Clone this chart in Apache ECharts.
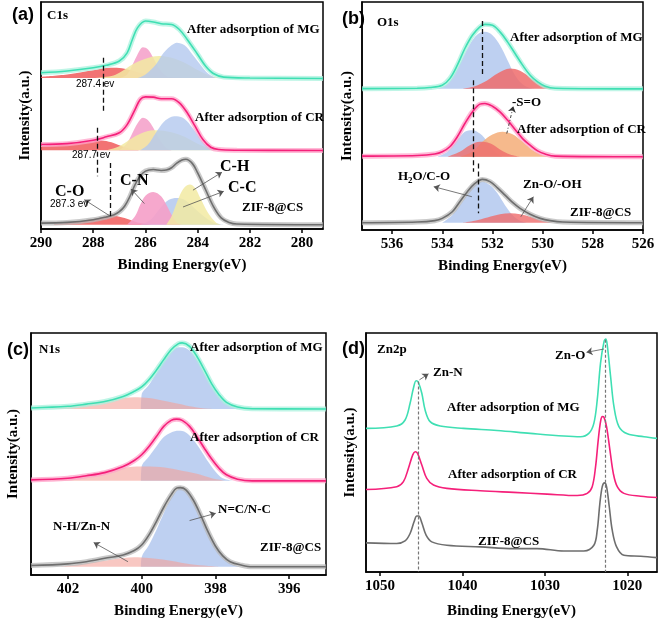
<!DOCTYPE html>
<html><head><meta charset="utf-8">
<script src="https://cdn.jsdelivr.net/npm/echarts@6/dist/echarts.min.js"></script>
<style>html,body{margin:0;padding:0;background:#fff}#c{width:661px;height:623px}</style>
</head><body><div id="c"></div>
<script>
// ---------- tick labels ----------
const ticksA = [280, 282, 284, 286, 288, 290];
const ticksB = [526, 528, 530, 532, 534, 536];
const ticksC = [396, 398, 400, 402];
const ticksD = [1020, 1030, 1040, 1050];

// ---------- (a) C1s ----------
const a_MG_fit = [[290,68.8],[289,69.6],[288,71.0],[287.5,72.1],[287,74.0],[286.7,77.6],[286.5,83.5],[286.3,88.7],[286,91.6],[285.7,91.2],[285.4,90.4],[285,90.1],[284.7,87.9],[284.4,83.5],[284,76.9],[283.7,71.8],[283.4,68.5],[283,66.9],[282,66.5],[279.2,66.3]];
const a_MG_CO = [[290,67.1],[289,68.1],[288,69.9],[287.5,70.9],[287.2,71.0],[286.8,70.6],[286.3,69.1],[285.8,67.6],[285.2,66.8],[284.5,66.5]];
const a_MG_CN = [[287.0,66.5],[286.7,68.1],[286.4,74.7],[286.2,79.1],[286.1,80.1],[285.9,79.1],[285.7,75.4],[285.5,71.0],[285.2,67.4],[284.9,66.5]];
const a_MG_CH = [[288,66.5],[287.3,67.4],[287,68.8],[286.5,72.5],[286,75.0],[285.5,76.2],[285,75.4],[284.5,73.2],[284,70.0],[283.5,67.4],[283,66.5]];
const a_MG_CC = [[286.3,66.5],[286,68.1],[285.6,72.5],[285.3,77.6],[285,80.9],[284.8,82.1],[284.5,80.9],[284.2,76.9],[283.9,72.5],[283.6,68.5],[283.3,66.5]];

const a_CR_fit = [[290,37.2],[289,37.6],[288,39.1],[287.5,40.6],[287,42.4],[286.7,46.0],[286.4,52.6],[286.2,57.1],[286,58.2],[285.7,58.1],[285.4,57.4],[285,57.4],[284.7,55.6],[284.4,51.2],[284.1,45.3],[283.8,39.4],[283.5,36.0],[283.2,35.0],[282.5,34.7],[279.2,34.6]];
const a_CR_CO = [[290,36.5],[289,37.2],[288.3,38.2],[287.7,39.0],[287.3,38.2],[287,36.9],[286.6,35.4],[286.2,34.7]];
const a_CR_CN = [[287.0,34.7],[286.7,37.9],[286.4,44.6],[286.2,48.2],[286.1,49.0],[285.9,47.9],[285.7,44.6],[285.5,40.1],[285.2,35.7],[285,34.7]];
const a_CR_CH = [[287.5,34.7],[287,36.5],[286.5,40.1],[286,42.8],[285.6,43.5],[285,42.6],[284.5,40.6],[284,37.6],[283.5,35.4],[283.2,34.7]];
const a_CR_CC = [[286.2,34.7],[285.9,37.2],[285.6,42.4],[285.3,47.1],[285,49.4],[284.8,49.7],[284.5,48.5],[284.2,44.6],[283.9,39.7],[283.6,36.2],[283.3,34.7]];

const a_ZIF_fit = [[290,2.6],[289,2.9],[288,4.1],[287.5,5.3],[287.2,6.3],[287,7.6],[286.8,10.0],[286.6,14.2],[286.4,19.5],[286.2,23.4],[286,25.5],[285.7,26.2],[285.4,25.8],[285.2,26.0],[285,27.0],[284.8,29.0],[284.6,30.4],[284.45,30.7],[284.2,28.8],[284,24.7],[283.7,17.4],[283.4,10.0],[283.1,4.9],[282.8,2.9],[282.5,2.2],[279.2,1.9]];
const a_ZIF_CO = [[289.5,2.1],[289,2.6],[288.5,3.5],[288,4.4],[287.6,5.4],[287.3,5.9],[287,5.4],[286.6,4.1],[286.2,2.6],[285.8,1.9]];
const a_ZIF_CN = [[286.7,1.9],[286.4,5.6],[286.2,10.7],[286,14.7],[285.7,16.3],[285.4,14.4],[285.2,10.7],[285,6.3],[284.8,2.9],[284.6,1.9]];
const a_ZIF_CC = [[286.2,1.9],[285.8,4.1],[285.4,9.7],[285.1,12.9],[284.8,13.7],[284.5,12.9],[284.2,10.0],[283.8,5.9],[283.4,2.9],[283,1.9]];
const a_ZIF_CH = [[285.2,1.9],[285,5.6],[284.7,14.4],[284.5,18.4],[284.3,19.6],[284.1,18.1],[283.9,13.7],[283.6,7.1],[283.3,2.9],[283.1,1.9]];
const a_base = [1.9, 34.7, 66.5];

// ---------- (b) O1s ----------
const b_MG_fit = [[537.2,62.0],[535,62.2],[534.5,62.5],[534,63.5],[533.7,66.4],[533.4,72.3],[533.1,79.6],[532.8,85.4],[532.5,89.1],[532.3,90.2],[532.0,89.8],[531.7,86.9],[531.4,82.5],[531.1,77.4],[530.8,72.3],[530.5,67.9],[530.2,65.0],[529.9,63.1],[529.5,62.2],[526,61.9]];
const b_MG_CO = [[534.2,62.0],[533.8,64.0],[533.5,68.8],[533.2,75.0],[532.9,81.5],[532.6,85.8],[532.3,86.9],[532.0,85.4],[531.7,81.0],[531.4,74.5],[531.1,67.9],[530.8,63.9],[530.5,62.3],[530.3,62.0]];
const b_MG_ZnO = [[533.2,62.0],[532.7,63.1],[532.2,65.7],[531.8,68.6],[531.3,70.8],[530.9,69.8],[530.5,66.9],[530.1,63.9],[529.7,62.3],[529.4,62.0]];

const b_CR_fit = [[537.2,32.4],[535,32.7],[534.3,33.3],[534,34.3],[533.7,36.5],[533.4,40.9],[533.1,46.7],[532.8,51.8],[532.5,55.2],[532.3,55.5],[532.0,54.3],[531.7,51.8],[531.4,48.2],[531.1,44.1],[530.8,40.1],[530.5,37.2],[530.2,34.7],[529.9,33.3],[529.5,32.4],[526,32.1]];
const b_CR_CO = [[534.2,32.1],[533.8,34.3],[533.4,39.4],[533.1,43.1],[532.8,43.8],[532.5,42.3],[532.2,38.7],[531.9,34.3],[531.6,32.1]];
const b_CR_SO = [[533.3,32.1],[532.8,34.3],[532.4,38.7],[532.0,41.9],[531.6,43.1],[531.2,42.0],[530.8,38.7],[530.4,35.0],[530.0,32.8],[529.6,32.1]];
const b_CR_ZnO = [[533.8,32.1],[533.3,34.3],[532.9,37.2],[532.5,38.7],[532.1,38.0],[531.7,35.3],[531.3,33.1],[530.9,32.1]];

const b_ZIF_fit = [[537.2,3.2],[535,3.5],[534.3,4.1],[534,5.1],[533.6,8.0],[533.3,12.4],[533,16.8],[532.7,20.4],[532.4,22.2],[532.1,21.2],[531.8,18.5],[531.5,15.3],[531.2,12.1],[530.9,9.5],[530.5,6.9],[530.1,5.1],[529.7,4.1],[529.2,3.5],[526,3.2]];
const b_ZIF_CO = [[534,3.2],[533.6,6.6],[533.2,12.4],[532.9,17.8],[532.6,20.7],[532.4,21.2],[532.1,19.7],[531.8,16.1],[531.5,10.9],[531.2,6.6],[530.9,4.1],[530.6,3.2]];
const b_ZIF_ZnO = [[533.2,3.2],[532.7,4.1],[532.2,5.5],[531.7,6.9],[531.3,7.3],[530.9,6.9],[530.5,5.8],[530.1,4.4],[529.6,3.2]];
const b_base = [3.2, 32.1, 62.0];

// ---------- (c) N1s ----------
const c_MG_fit = [[403,69.0],[402,69.7],[401.5,70.6],[401,71.7],[400.5,73.8],[400.2,75.9],[400,77.7],[399.8,80.7],[399.6,84.6],[399.4,89.0],[399.2,93.1],[399,95.6],[398.9,95.9],[398.7,94.5],[398.5,90.3],[398.3,84.8],[398.1,79.0],[397.9,74.5],[397.7,71.3],[397.4,69.4],[397,68.7],[395,68.6]];
const c_MG_NC = [[400.02,68.6],[400,74.5],[399.8,78.6],[399.6,83.4],[399.4,88.3],[399.2,92.0],[399,94.1],[398.9,94.1],[398.7,92.8],[398.5,89.0],[398.3,83.4],[398.1,78.2],[397.9,73.8],[397.7,71.0],[397.4,69.0],[397.1,68.6]];
const c_MG_NH = [[402.5,68.7],[402,69.4],[401.5,70.8],[401,72.1],[400.5,73.2],[400.2,73.5],[399.8,73.1],[399.4,72.0],[399,70.8],[398.6,69.5],[398.2,68.7],[397.8,68.6]];

const c_CR_fit = [[403,39.3],[402,40.0],[401.5,41.0],[401,42.3],[400.5,44.8],[400.2,47.3],[400,49.7],[399.8,53.1],[399.6,57.2],[399.4,61.4],[399.2,63.9],[399.05,64.4],[398.9,63.9],[398.7,61.4],[398.5,57.2],[398.3,52.4],[398.1,47.9],[397.9,44.1],[397.7,41.4],[397.4,39.6],[397,38.9],[395,38.9]];
const c_CR_NC = [[400.02,38.9],[400,44.8],[399.8,49.0],[399.6,53.1],[399.4,57.0],[399.2,58.9],[399,59.6],[398.8,58.9],[398.6,55.9],[398.4,51.7],[398.2,46.9],[398,42.8],[397.8,40.0],[397.5,38.9]];
const c_CR_NH = [[402.6,38.9],[402,40.0],[401.5,41.4],[401,43.0],[400.5,44.3],[400,44.8],[399.5,44.6],[399,43.4],[398.5,41.8],[398.1,40.0],[397.7,38.9]];

const c_ZIF_fit = [[403,3.9],[402,4.6],[401.5,5.5],[401,6.9],[400.5,8.3],[400.2,10.1],[400,12.4],[399.8,16.6],[399.6,22.1],[399.4,28.0],[399.2,33.1],[399.05,35.9],[398.95,36.1],[398.8,35.2],[398.6,31.0],[398.4,24.8],[398.2,17.9],[398,12.0],[397.8,7.9],[397.6,5.5],[397.3,4.1],[397,3.4],[395,3.4]];
const c_ZIF_NC = [[400.02,3.4],[400,7.3],[399.8,12.4],[399.6,18.6],[399.4,25.5],[399.2,31.7],[399,35.6],[398.9,35.9],[398.7,33.0],[398.5,27.5],[398.3,21.0],[398.1,14.6],[397.9,9.5],[397.7,5.8],[397.4,3.7],[397.2,3.4]];
const c_ZIF_NH = [[402.2,3.4],[401.6,4.6],[401,5.9],[400.5,7.0],[400.2,7.3],[399.8,7.0],[399.3,6.1],[398.8,4.8],[398.3,3.9],[397.9,3.4]];
const c_base = [3.4, 38.9, 68.6];

// ---------- (d) Zn2p ----------
const d_MG = [[1051.7,60.1],[1047.97,61.1],[1046.96,63.6],[1046.35,70.6],[1045.95,76.9],[1045.62,80.0],[1045.34,79.3],[1044.93,74.8],[1044.53,67.8],[1043.92,62.9],[1042.70,61.1],[1039.87,60.1],[1035.81,59.2],[1031.76,58.0],[1027.71,56.9],[1025.68,56.6],[1024.67,58.0],[1024.06,62.2],[1023.65,72.0],[1023.25,87.4],[1022.82,96.5],[1022.61,97.5],[1022.44,95.1],[1022.03,81.8],[1021.62,69.2],[1021.02,60.8],[1020.0,57.8],[1017.98,56.6],[1016.4,55.9]];
const d_CR = [[1051.7,34.5],[1047.97,35.7],[1047.16,37.8],[1046.55,43.4],[1046.03,49.0],[1045.74,50.3],[1045.46,49.7],[1044.93,44.8],[1044.33,39.2],[1043.51,36.4],[1041.89,35.0],[1037.84,34.0],[1033.79,33.3],[1029.73,32.6],[1026.08,32.0],[1024.87,32.9],[1024.26,35.7],[1023.85,44.1],[1023.53,55.2],[1023.25,62.9],[1023.04,65.0],[1022.84,64.8],[1022.52,60.8],[1022.11,51.0],[1021.70,41.3],[1021.22,35.7],[1020.41,32.9],[1018.38,31.7],[1016.4,31.2]];
const d_ZIF = [[1051.7,12.2],[1047.97,11.9],[1046.96,13.0],[1046.35,16.1],[1045.87,21.0],[1045.54,23.4],[1045.30,23.4],[1044.93,20.6],[1044.41,15.4],[1043.72,12.6],[1041.89,11.2],[1037.84,10.5],[1033.79,9.8],[1030.95,9.8],[1027.71,8.8],[1025.28,8.8],[1024.06,11.2],[1023.65,17.5],[1023.33,28.7],[1023.04,35.7],[1022.76,37.3],[1022.52,35.7],[1022.19,27.3],[1021.83,17.5],[1021.30,10.5],[1020.41,7.0],[1018.38,6.6],[1016.4,6.0]];

// ---------- chart ----------
const SERIF = '"Liberation Serif", "Times New Roman", serif';
const SANS = '"Liberation Sans", Arial, sans-serif';
const C = {
  teal: '#3fdfb3', tealN: '#a9f2dd',
  mag: '#f5207a', magN: '#ffa3c9',
  gray: '#6e6e6e', grayN: '#b8b8b8',
  red: '#f05a5a', pink: '#f59ec8', yellow: '#f2eaa2', blue: '#b3c8ef', orange: '#f5ad78', salmon: '#f3a19a', redB: '#ef6b6b'
};

const grids = [
  {left: 41, top: 2, width: 282, height: 227},
  {left: 362, top: 2, width: 281, height: 228},
  {left: 31, top: 333, width: 295, height: 242},
  {left: 366, top: 333, width: 291, height: 239}
].map(g => Object.assign({show: true, borderColor: '#000', borderWidth: 1.5, backgroundColor: 'transparent'}, g));

function xAx(i, min, max, ticks, gap) {
  return {
    gridIndex: i, type: 'value', min, max, inverse: true,
    axisLine: {show: true, onZero: false, lineStyle: {color: '#000', width: 1.5}},
    axisTick: {show: true, inside: false, length: 4, customValues: ticks, lineStyle: {color: '#000', width: 1.5}},
    axisLabel: {customValues: ticks, formatter: v => String(v), color: '#000', fontFamily: SERIF, fontWeight: 'bold', fontSize: 15, margin: 7},
    splitLine: {show: false},
    name: 'Binding Energy(eV)', nameLocation: 'middle', nameGap: gap,
    nameTextStyle: {color: '#000', fontFamily: SERIF, fontWeight: 'bold', fontSize: 15}
  };
}
function yAx(i, gap) {
  return {
    gridIndex: i, type: 'value', min: 0, max: 100,
    axisLine: {show: true, lineStyle: {color: '#000', width: 1.5}},
    axisTick: {show: false}, axisLabel: {show: false}, splitLine: {show: false},
    name: 'Intensity(a.u.)', nameLocation: 'middle', nameGap: gap, nameRotate: 90,
    nameTextStyle: {color: '#000', fontFamily: SERIF, fontWeight: 'bold', fontSize: 15}
  };
}

const series = [];
const SM = 0.35;
function area(g, data, color, base, op) {
  series.push({type: 'line', xAxisIndex: g, yAxisIndex: g, data, smooth: SM, symbol: 'none', silent: true,
    lineStyle: {width: 0}, areaStyle: {color, opacity: op == null ? 0.85 : op, origin: base}, z: 2});
}
function fit(g, data, color, noise) {
  if (noise) series.push({type: 'line', xAxisIndex: g, yAxisIndex: g, data, smooth: SM, symbol: 'none', silent: true,
    lineStyle: {width: 5, color: noise, opacity: 0.75}, z: 3});
  series.push({type: 'line', xAxisIndex: g, yAxisIndex: g, data, smooth: SM, symbol: 'none', silent: true,
    lineStyle: {width: 1.6, color}, z: 4});
}
function lines(g, items, style, sym) {
  series.push({type: 'line', xAxisIndex: g, yAxisIndex: g, data: [], silent: true,
    markLine: {silent: true, animation: false, symbol: sym || ['none', 'none'], symbolSize: 6,
      label: {show: false}, lineStyle: style,
      data: items.map(p => [{coord: [p[0], p[1]]}, {coord: [p[2], p[3]]}])}});
}

// (a)
area(0, a_MG_CO, C.red, a_base[2]); area(0, a_MG_CN, C.pink, a_base[2]); area(0, a_MG_CH, C.yellow, a_base[2]); area(0, a_MG_CC, C.blue, a_base[2], 0.8);
fit(0, a_MG_fit, C.teal, C.tealN);
area(0, a_CR_CO, C.red, a_base[1]); area(0, a_CR_CN, C.pink, a_base[1]); area(0, a_CR_CH, C.yellow, a_base[1]); area(0, a_CR_CC, C.blue, a_base[1], 0.8);
fit(0, a_CR_fit, C.mag, C.magN);
area(0, a_ZIF_CO, C.red, a_base[0]); area(0, a_ZIF_CC, C.blue, a_base[0]); area(0, a_ZIF_CN, C.pink, a_base[0], 0.9); area(0, a_ZIF_CH, C.yellow, a_base[0], 0.85);
fit(0, a_ZIF_fit, C.gray, C.grayN);
lines(0, [[287.62,75.4,287.62,51.9],[287.83,44.6,287.83,23.2],[287.33,29.1,287.33,4.9]], {color: '#111', type: [5, 3], width: 1.3});
lines(0, [[287.34,5.6,288.34,12.9],[286.04,11.2,286.55,17.6],[284.18,17.1,283.07,25.0],[284.56,9.7,283.0,16.6]], {color: '#555', type: 'solid', width: 0.8}, ['none', 'arrow']);

// (b)
area(1, b_MG_CO, C.blue, b_base[2]); area(1, b_MG_ZnO, C.redB, b_base[2], 0.85);
fit(1, b_MG_fit, C.teal, C.tealN);
area(1, b_CR_CO, C.blue, b_base[1]); area(1, b_CR_SO, C.orange, b_base[1]); area(1, b_CR_ZnO, C.redB, b_base[1], 0.8);
fit(1, b_CR_fit, C.mag, C.magN);
area(1, b_ZIF_CO, C.blue, b_base[0]); area(1, b_ZIF_ZnO, C.redB, b_base[0], 0.8);
fit(1, b_ZIF_fit, C.gray, C.grayN);
lines(1, [[532.41,91.7,532.41,67.9],[532.78,65.7,532.78,25.5],[532.56,29.2,532.56,7.3]], {color: '#111', type: [5, 3], width: 1.3});
lines(1, [[532.82,14.6,534.34,19.0],[530.87,5.8,530.37,14.6]], {color: '#555', type: 'solid', width: 0.8}, ['none', 'arrow']);
lines(1, [[531.43,42.3,531.17,54.3]], {color: '#333', type: [3, 2, 1, 2], width: 0.9}, ['none', 'arrow']);

// (c)
area(2, c_MG_NC, C.blue, c_base[2]); area(2, c_MG_NH, C.salmon, c_base[2], 0.6);
fit(2, c_MG_fit, C.teal, C.tealN);
area(2, c_CR_NC, C.blue, c_base[1]); area(2, c_CR_NH, C.salmon, c_base[1], 0.6);
fit(2, c_CR_fit, C.mag, C.magN);
area(2, c_ZIF_NC, C.blue, c_base[0]); area(2, c_ZIF_NH, C.salmon, c_base[0], 0.6);
fit(2, c_ZIF_fit, C.gray, C.grayN);
lines(2, [[400.37,5.5,401.30,13.4],[398.70,22.5,397.99,25.5]], {color: '#555', type: 'solid', width: 0.8}, ['none', 'arrow']);

// (d)
fit(3, d_MG, C.teal); fit(3, d_CR, C.mag); fit(3, d_ZIF, C.gray);
lines(3, [[1045.34,79.7,1045.34,0],[1022.72,97.2,1022.72,0]], {color: '#777', type: [3, 2], width: 1.2});
lines(3, [[1045.22,80.4,1044.12,82.9],[1022.84,93.3,1024.95,91.9]], {color: '#555', type: 'solid', width: 0.8}, ['none', 'arrow']);

// ---------- text annotations ----------
function T(text, x, y, size, fam, align) {
  return {type: 'text', x, y, z: 100, silent: true,
    style: {text, fill: '#000', font: 'bold ' + size + 'px ' + (fam || SERIF), align: align || 'left', verticalAlign: 'middle'}};
}
function Ts(text, x, y, size) {
  return {type: 'text', x, y, z: 100, silent: true,
    style: {text, fill: '#000', font: size + 'px ' + SANS, align: 'left', verticalAlign: 'middle'}};
}
const graphic = [
  T('(a)', 12, 15, 18, SANS), T('C1s', 47, 16, 13),
  T('After adsorption of MG', 187, 30, 13), T('After adsorption of CR', 195, 118, 13), T('ZIF-8@CS', 242, 208, 13),
  T('C-O', 55, 192, 16), Ts('287.3 ev', 50, 204, 10), T('C-N', 120, 181, 16), T('C-H', 220, 167, 16), T('C-C', 228, 188, 16),
  Ts('287.4 ev', 76, 84, 10), Ts('287.7 ev', 72, 155, 10),

  T('(b)', 342, 19, 18, SANS), T('O1s', 377, 23, 13),
  T('After adsorption of MG', 510, 38, 13), T('-S=O', 512, 103, 13), T('After adsorption of CR', 517, 130, 13),
  {type: 'text', x: 398, y: 177, z: 100, silent: true,
    style: {text: '{n|H}{s|2}{n|O/C-O}', align: 'left', verticalAlign: 'middle',
      rich: {n: {fontFamily: SERIF, fontWeight: 'bold', fontSize: 13, fill: '#000'},
             s: {fontFamily: SERIF, fontWeight: 'bold', fontSize: 9, fill: '#000', padding: [7, 0, 0, 0]}}}},
  T('Zn-O/-OH', 523, 185, 13), T('ZIF-8@CS', 570, 213, 13),

  T('(c)', 7, 350, 18, SANS), T('N1s', 39, 350, 13),
  T('After adsorption of MG', 190, 348, 13), T('After adsorption of CR', 190, 438, 13),
  T('N-H/Zn-N', 53, 527, 13), T('N=C/N-C', 218, 510, 13), T('ZIF-8@CS', 260, 548, 13),

  T('(d)', 342, 349, 18, SANS), T('Zn2p', 377, 350, 13),
  T('Zn-N', 433, 373, 13), T('Zn-O', 555, 356, 13),
  T('After adsorption of MG', 447, 408, 13), T('After adsorption of CR', 448, 475, 13), T('ZIF-8@CS', 478, 542, 13)
];

const chart = echarts.init(document.getElementById('c'));
chart.setOption({
  animation: false,
  backgroundColor: '#fff',
  grid: grids,
  xAxis: [xAx(0, 279.2, 290, ticksA, 29), xAx(1, 526, 537.2, ticksB, 29), xAx(2, 395, 403, ticksC, 29), xAx(3, 1016.4, 1051.7, ticksD, 32)],
  yAxis: [yAx(0, 8), yAx(1, 7), yAx(2, 10), yAx(3, 8)],
  series,
  graphic
});
</script></body></html>
